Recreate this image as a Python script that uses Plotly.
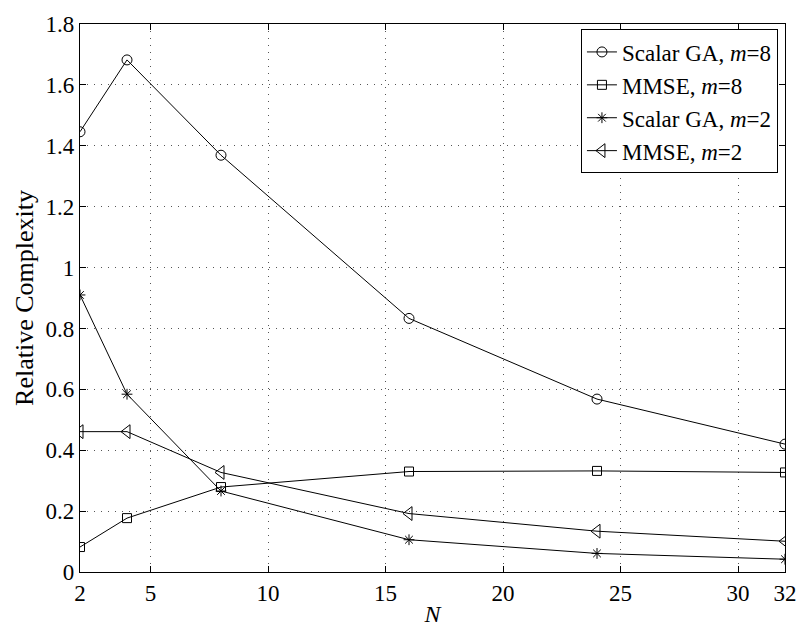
import plotly.graph_objects as go

N = [2, 4, 8, 16, 24, 32]
scalar_ga_m8 = [1.446, 1.682, 1.369, 0.833, 0.568, 0.420]
mmse_m8 = [0.082, 0.177, 0.279, 0.330, 0.332, 0.327]
scalar_ga_m2 = [0.910, 0.584, 0.266, 0.106, 0.061, 0.042]
mmse_m2 = [0.461, 0.461, 0.327, 0.192, 0.134, 0.101]

x_ticks = [2, 5, 10, 15, 20, 25, 30, 32]
y_ticks = [0, 0.2, 0.4, 0.6, 0.8, 1.0, 1.2, 1.4, 1.6, 1.8]
y_tick_labels = ["0", "0.2", "0.4", "0.6", "0.8", "1", "1.2", "1.4", "1.6", "1.8"]

FONT = "Liberation Serif"

series = [
    ("Scalar GA, <i>m</i>=8", scalar_ga_m8, "circle-open", 10),
    ("MMSE, <i>m</i>=8", mmse_m8, "square-open", 9),
    ("Scalar GA, <i>m</i>=2", scalar_ga_m2, "asterisk-open", 9),
    ("MMSE, <i>m</i>=2", mmse_m2, "triangle-left-open", 12),
]

fig = go.Figure()
for name, ys, sym, sz in series:
    fig.add_trace(go.Scatter(
        x=N, y=ys, name=name, mode="lines+markers",
        line=dict(color="black", width=1),
        marker=dict(symbol=sym, size=sz, color="black", line=dict(color="black", width=1)),
    ))

axis_common = dict(
    showline=True, linecolor="black", linewidth=1.3, mirror="ticks",
    ticks="inside", ticklen=6, tickcolor="black", tickwidth=1,
    showgrid=True, gridcolor="#555555", griddash="1px,6px", gridwidth=1,
    zeroline=False,
    tickfont=dict(family=FONT, size=23, color="black"),
)

fig.update_layout(
    width=809, height=635,
    margin=dict(l=80, r=15, t=12, b=61),
    paper_bgcolor="white", plot_bgcolor="white",
    font=dict(family=FONT, color="black"),
    xaxis=dict(
        range=[2, 32], tickvals=x_ticks, ticktext=[str(v) for v in x_ticks],
        title=dict(text="<i>N</i>", font=dict(family=FONT, size=24), standoff=0),
        **axis_common,
    ),
    yaxis=dict(
        range=[0, 1.8], tickvals=y_ticks, ticktext=y_tick_labels,
        title=dict(text="Relative Complexity", font=dict(family=FONT, size=26), standoff=4),
        **axis_common,
    ),
    legend=dict(
        x=0.99, y=0.99, xanchor="right", yanchor="top",
        bgcolor="white", bordercolor="black", borderwidth=1,
        font=dict(family=FONT, size=23, color="black"),
        tracegroupgap=0, itemwidth=30,
    ),
    showlegend=True,
)

fig.write_html("out.html")
